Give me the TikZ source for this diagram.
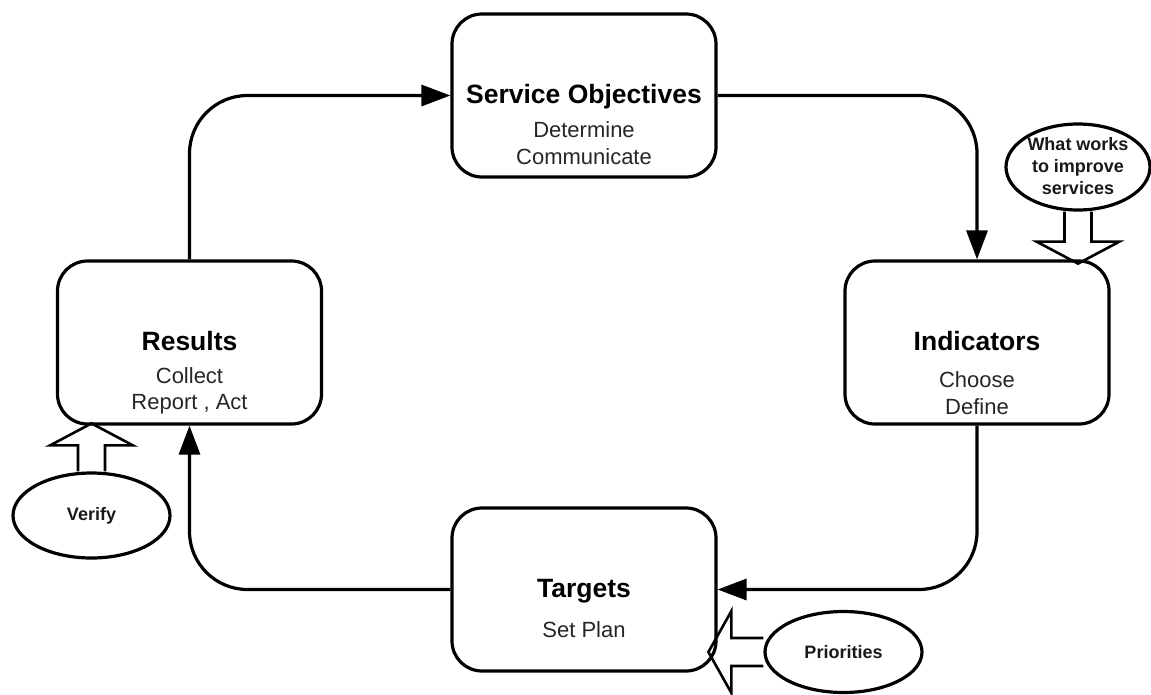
\documentclass[tikz,border=0pt]{standalone}
\usepackage{fontspec}
\setmainfont{Liberation Sans}
\usetikzlibrary{shapes.geometric,arrows.meta}
\begin{document}
\begin{tikzpicture}[x=1pt,y=-1pt,
  stagebox/.style={draw, line width=3.2pt, rounded corners=30pt, minimum width=264pt,
    minimum height=163pt, inner sep=0pt},
  bubble/.style={draw, line width=3.2pt, ellipse, inner sep=0pt},
  titletext/.style={anchor=base, font=\fontsize{26.5}{30}\selectfont\bfseries, text=black},
  subtext/.style={anchor=base, font=\fontsize{22}{26}\selectfont, text=black!85},
  bubbletext/.style={align=center, font=\fontsize{18}{22}\selectfont\bfseries, text=black!90},
  flow/.style={line width=3.2pt, rounded corners=58pt, -{Triangle[length=29pt,width=21pt]}},
  hollowarrow/.style={line width=2.6pt, line join=miter}
]
\useasboundingbox (0,0) rectangle (1151,694);

% the four stages of the cycle
\node[stagebox] (so)  at (584,95.5)  {};
\node[stagebox] (res) at (189.5,342.5) {};
\node[stagebox] (ind) at (977,342.5) {};
\node[stagebox] (tar) at (584,589.5) {};

\node[titletext] (so-t)  at (584,103) {Service Objectives};
\node[subtext]   (so-a)  at (584,137) {Determine};
\node[subtext]   (so-b)  at (584,164) {Communicate};

\node[titletext] (res-t) at (189.5,350) {Results};
\node[subtext]   (res-a) at (189.5,383) {Collect};
\node[subtext]   (res-b) at (189.5,409) {Report , Act};

\node[titletext] (ind-t) at (977,350) {Indicators};
\node[subtext]   (ind-a) at (977,387) {Choose};
\node[subtext]   (ind-b) at (977,414) {Define};

\node[titletext] (tar-t) at (584,597) {Targets};
\node[subtext]   (tar-a) at (584,637) {Set Plan};

% cycle connectors
\draw[flow] (res.north) |- (so.west);
\draw[flow] (so.east) -| (ind.north);
\draw[flow] (ind.south) |- (tar.east);
\draw[flow] (tar.west) -| (res.south);

% inputs
\node[bubble, minimum width=144pt, minimum height=86pt] (ww) at (1078,167) {};
\node[bubbletext] (ww-t) at (1078,166) {What works\\to improve\\services};
\draw[hollowarrow] (ww.south) ++(-13.5,0) -- ++(0,30) -- ++(-28,0) -- ++(41.5,22)
  -- ++(41.5,-22) -- ++(-28,0) -- ++(0,-30);

\node[bubble, minimum width=157pt, minimum height=85pt] (vf) at (91.5,515.5) {};
\node[bubbletext] (vf-t) at (91.5,515.5) {Verify};
\draw[hollowarrow] (vf.north) ++(-13.5,0) -- ++(0,-26) -- ++(-28,0) -- ++(41.5,-22)
  -- ++(41.5,22) -- ++(-28,0) -- ++(0,26);

\node[bubble, minimum width=157pt, minimum height=81pt] (pr) at (843.5,652) {};
\node[bubbletext] (pr-t) at (843.5,652) {Priorities};
\draw[hollowarrow] (pr.west) ++(0,-14) -- ++(-32,0) -- ++(0,-27) -- ++(-23,41)
  -- ++(23,41) -- ++(0,-27) -- ++(32,0);
\end{tikzpicture}
\end{document}
